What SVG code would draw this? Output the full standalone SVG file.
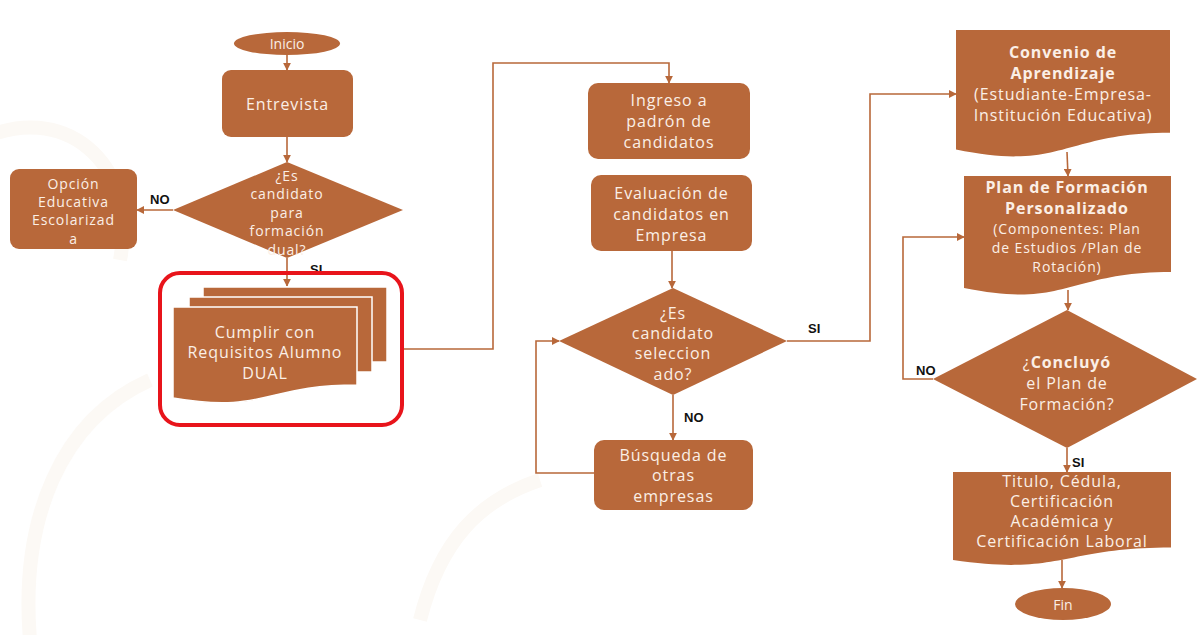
<svg xmlns="http://www.w3.org/2000/svg" width="1197" height="635" viewBox="0 0 1197 635">
<defs>
<marker id="ah" viewBox="0 0 10 10" refX="9" refY="5" markerWidth="8" markerHeight="8" markerUnits="userSpaceOnUse" orient="auto">
<path d="M0,0 L10,5 L0,10 Z" fill="#B8683A"/>
</marker>
<style>
.sh{fill:#B8683A;}
.doc{fill:#B8683A;stroke:#fff;stroke-width:1.5;}
.t{font-family:"Open Sans","Liberation Sans",sans-serif;fill:#FBEFE6;text-anchor:middle;dominant-baseline:central;}
.t16{font-size:16px;letter-spacing:0.9px;}
.t14{font-size:14px;letter-spacing:0.9px;}
.b{font-weight:bold;}
.lbl{font-family:"Liberation Sans",Arial,sans-serif;font-weight:bold;font-size:13px;fill:#111;dominant-baseline:central;}
.c{fill:none;stroke:#B8683A;stroke-width:1.6;}
</style>
</defs>
<rect width="1197" height="635" fill="#fff"/>
<g id="bg" fill="none" stroke="#FCF9F5" stroke-width="14">
<path d="M-20,140 C60,100 140,160 120,260"/>
<path d="M30,640 C20,520 60,420 150,380"/>
<path d="M420,620 C440,540 480,500 540,480"/>
</g>
<g id="connectors">
<line class="c" x1="287" y1="55" x2="287" y2="70" marker-end="url(#ah)"/>
<line class="c" x1="287" y1="137" x2="287" y2="162" marker-end="url(#ah)"/>
<line class="c" x1="173" y1="210" x2="137" y2="210" marker-end="url(#ah)"/>
<line class="c" x1="287" y1="258" x2="287" y2="286" marker-end="url(#ah)"/>
<polyline class="c" points="402,349 493,349 493,63 669,63 669,83" marker-end="url(#ah)"/>
<line class="c" x1="672" y1="251" x2="672" y2="288" marker-end="url(#ah)"/>
<line class="c" x1="673" y1="395" x2="673" y2="440" marker-end="url(#ah)"/>
<polyline class="c" points="594,473 536,473 536,341 559,341" marker-end="url(#ah)"/>
<polyline class="c" points="787,341 870,341 870,94 956,94" marker-end="url(#ah)"/>
<line class="c" x1="1067" y1="152" x2="1068" y2="176" marker-end="url(#ah)"/>
<line class="c" x1="1068" y1="290" x2="1068" y2="310" marker-end="url(#ah)"/>
<polyline class="c" points="933,379 903,379 903,237 964,237" marker-end="url(#ah)"/>
<line class="c" x1="1067" y1="448" x2="1067" y2="472" marker-end="url(#ah)"/>
<line class="c" x1="1062" y1="560" x2="1062" y2="588" marker-end="url(#ah)"/>
<text class="lbl" x="150" y="199">NO</text>
<text class="lbl" x="310" y="269">SI</text>
<text class="lbl" x="684" y="417">NO</text>
<text class="lbl" x="808" y="328">SI</text>
<text class="lbl" x="916" y="370">NO</text>
<text class="lbl" x="1072" y="462">SI</text>
</g>
<g id="inicio">
<ellipse class="sh" cx="287" cy="43.5" rx="53" ry="11.5"/>
<text class="t" style="font-size:14px" x="287" y="43.5">Inicio</text>
</g>
<g id="entrevista">
<rect class="sh" x="222" y="70" width="131" height="67" rx="9"/>
<text class="t t16" x="287.5" y="104">Entrevista</text>
</g>
<g id="decision1">
<polygon class="sh" points="287,162 403,210 287,258 173,210"/>
<text class="t t14" x="287"><tspan x="287" y="175">¿Es</tspan><tspan x="287" y="193">candidato</tspan><tspan x="287" y="212">para</tspan><tspan x="287" y="230">formación</tspan><tspan x="287" y="249">dual?</tspan></text>
</g>
<g id="opcion">
<rect class="sh" x="10" y="169" width="127" height="80" rx="9"/>
<text class="t t14"><tspan x="73.5" y="183">Opción</tspan><tspan x="73.5" y="201">Educativa</tspan><tspan x="73.5" y="219">Escolarizad</tspan><tspan x="73.5" y="238">a</tspan></text>
</g>
<g id="requisitos">
<rect x="160" y="273" width="242" height="152" rx="20" fill="none" stroke="#E8141B" stroke-width="4"/>
<rect class="doc" x="203" y="287" width="184" height="75"/>
<rect class="doc" x="189" y="297" width="183" height="75"/>
<path class="doc" d="M173,307 H357 V385 C265,385 265,414 173,398 Z"/>
<text class="t t16"><tspan x="265" y="332">Cumplir con</tspan><tspan x="265" y="352">Requisitos Alumno</tspan><tspan x="265" y="373">DUAL</tspan></text>
</g>
<g id="ingreso">
<rect class="sh" x="588" y="83" width="162" height="76" rx="10"/>
<text class="t t16"><tspan x="669" y="100">Ingreso a</tspan><tspan x="669" y="121">padrón de</tspan><tspan x="669" y="142">candidatos</tspan></text>
</g>
<g id="evaluacion">
<rect class="sh" x="591" y="175" width="161" height="76" rx="10"/>
<text class="t t16"><tspan x="671.5" y="193">Evaluación de</tspan><tspan x="671.5" y="214">candidatos en</tspan><tspan x="671.5" y="235">Empresa</tspan></text>
</g>
<g id="decision2">
<polygon class="sh" points="673,288 787,341 673,395 559,341"/>
<text class="t t16"><tspan x="673" y="313">¿Es</tspan><tspan x="673" y="333">candidato</tspan><tspan x="673" y="353">seleccion</tspan><tspan x="673" y="374">ado?</tspan></text>
</g>
<g id="busqueda">
<rect class="sh" x="594" y="440" width="159" height="70" rx="10"/>
<text class="t t16"><tspan x="673.5" y="455">Búsqueda de</tspan><tspan x="673.5" y="475">otras</tspan><tspan x="673.5" y="496">empresas</tspan></text>
</g>
<g id="convenio">
<path class="sh" d="M956,30 H1170 V132.7 C1063,132.7 1063,171.7 956,149.6 Z"/>
<text class="t t16"><tspan class="b" x="1063" y="52">Convenio de</tspan><tspan class="b" x="1063" y="73">Aprendizaje</tspan><tspan x="1063" y="94">(Estudiante-Empresa-</tspan><tspan x="1063" y="115">Institución Educativa)</tspan></text>
</g>
<g id="plan">
<path class="sh" d="M964,176 H1171 V272 C1067.5,272 1067.5,309 964,288 Z"/>
<text class="t"><tspan class="b t16" x="1067" y="187">Plan de Formación</tspan><tspan class="b t16" x="1067" y="208">Personalizado</tspan><tspan class="t14" x="1067" y="228">(Componentes: Plan</tspan><tspan class="t14" x="1067" y="247">de Estudios /Plan de</tspan><tspan class="t14" x="1067" y="266">Rotación)</tspan></text>
</g>
<g id="decision3">
<polygon class="sh" points="1067,310 1197,379 1067,448 933,379"/>
<text class="t t16"><tspan x="1067" y="362">¿<tspan class="b">Concluyó</tspan></tspan><tspan x="1067" y="383">el Plan de</tspan><tspan x="1067" y="404">Formación?</tspan></text>
</g>
<g id="titulo">
<path class="sh" d="M953,472 H1171 V547.5 C1062,547.5 1062,576 953,560 Z"/>
<text class="t t16"><tspan x="1062" y="481">Titulo, Cédula,</tspan><tspan x="1062" y="501">Certificación</tspan><tspan x="1062" y="521">Académica y</tspan><tspan x="1062" y="541">Certificación Laboral</tspan></text>
</g>
<g id="fin">
<ellipse class="sh" cx="1063" cy="604" rx="48" ry="16"/>
<text class="t" style="font-size:14px" x="1063" y="604">Fin</text>
</g>
</svg>
